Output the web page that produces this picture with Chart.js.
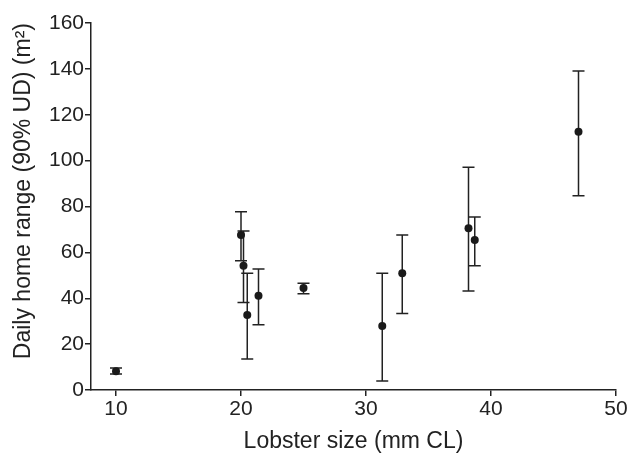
<!DOCTYPE html>
<html>
<head>
<meta charset="utf-8">
<script src="https://cdn.jsdelivr.net/npm/chart.js@4.4.0/dist/chart.umd.min.js"></script>
<style>
  html, body { margin: 0; padding: 0; background: #ffffff; }
  #wrap { width: 630px; height: 457px; }
</style>
</head>
<body>
<div id="wrap"><canvas id="c" width="630" height="457"></canvas></div>
<script>
// Lobster size (mm CL)
const lobsterSize = [10, 20.0, 20.2, 20.5, 21.4, 25.0, 31.3, 32.9, 38.2, 38.7, 47.0];
// Daily home range (90% UD) (m²) – mean
const homeRange = [8.2, 67.6, 54.2, 32.7, 41.1, 44.5, 27.9, 50.9, 70.5, 65.4, 112.6];
// Error bar upper and lower ends
const upperEnd = [9.6, 77.7, 69.3, 50.9, 52.7, 46.5, 50.9, 67.6, 97.1, 75.4, 139.1];
const lowerEnd = [7.0, 56.4, 38.2, 13.5, 28.5, 42.0, 3.9, 33.3, 43.2, 54.2, 84.7];
// Tick labels
const xTicks = [10, 20, 30, 40, 50];
const yTicks = [0, 20, 40, 60, 80, 100, 120, 140, 160];

const points = lobsterSize.map((x, i) => ({ x: x, y: homeRange[i] }));

const errorBars = {
  id: 'errorBars',
  beforeDatasetsDraw(chart) {
    const ctx = chart.ctx;
    const xs = chart.scales.x, ys = chart.scales.y;
    ctx.save();
    ctx.strokeStyle = '#222222';
    ctx.lineWidth = 1.5;
    const cap = 6;
    lobsterSize.forEach((x, i) => {
      const px = xs.getPixelForValue(x);
      const pTop = ys.getPixelForValue(upperEnd[i]);
      const pBot = ys.getPixelForValue(lowerEnd[i]);
      ctx.beginPath();
      ctx.moveTo(px, pTop); ctx.lineTo(px, pBot);
      ctx.moveTo(px - cap, pTop); ctx.lineTo(px + cap, pTop);
      ctx.moveTo(px - cap, pBot); ctx.lineTo(px + cap, pBot);
      ctx.stroke();
    });
    ctx.restore();
  }
};

const font = { family: '"Liberation Sans", Arial, Helvetica, sans-serif' };

new Chart(document.getElementById('c'), {
  type: 'scatter',
  data: {
    datasets: [{
      data: points,
      pointRadius: 4,
      pointHoverRadius: 4,
      pointBackgroundColor: '#1a1a1a',
      pointBorderColor: '#1a1a1a',
      pointBorderWidth: 0
    }]
  },
  options: {
    responsive: false,
    animation: false,
    events: [],
    layout: { padding: { top: 23, right: 14, left: 0, bottom: 0 } },
    plugins: { legend: { display: false }, tooltip: { enabled: false } },
    scales: {
      x: {
        type: 'linear',
        min: 8, max: 50,
        afterBuildTicks: s => { s.ticks = xTicks.map(v => ({ value: v })); },
        afterFit: s => { s.height = 67; },
        border: { display: true, color: '#222222', width: 1.5 },
        grid: { display: true, drawOnChartArea: false, drawTicks: true, tickLength: 6, color: '#222222', lineWidth: 1.5 },
        ticks: { color: '#222222', padding: 1, font: { ...font, size: 21 }, maxRotation: 0 },
        title: { display: true, text: 'Lobster size (mm CL)', color: '#222222', font: { ...font, size: 23 }, padding: { top: 0, bottom: 2 } }
      },
      y: {
        type: 'linear',
        min: 0, max: 160,
        afterBuildTicks: s => { s.ticks = yTicks.map(v => ({ value: v })); },
        afterFit: s => { s.width = 91; },
        border: { display: true, color: '#222222', width: 1.5 },
        grid: { display: true, drawOnChartArea: false, drawTicks: true, tickLength: 6, color: '#222222', lineWidth: 1.5 },
        ticks: { color: '#222222', padding: 1, font: { ...font, size: 21 } },
        title: { display: true, text: 'Daily home range (90% UD) (m²)', color: '#222222', font: { ...font, size: 23 }, align: 'end', padding: { top: 10, bottom: 0 } }
      }
    }
  },
  plugins: [errorBars]
});
</script>
</body>
</html>
